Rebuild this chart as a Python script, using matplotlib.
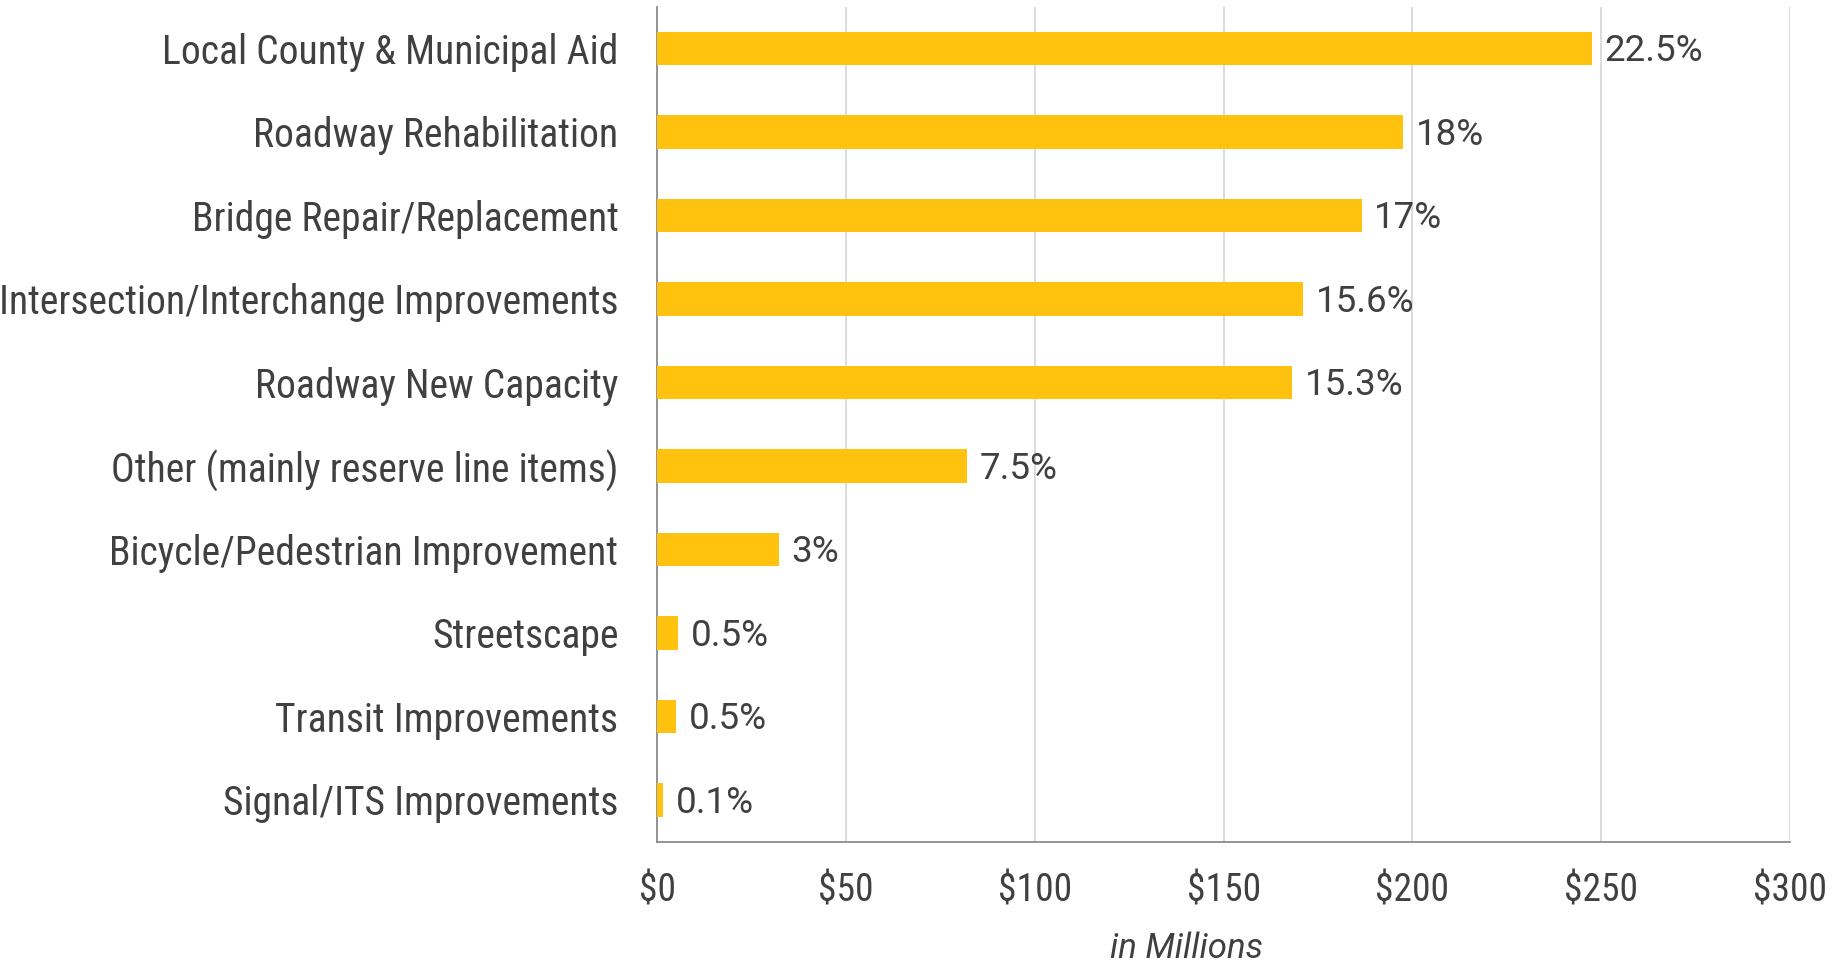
import matplotlib
matplotlib.use("Agg")
import matplotlib.pyplot as plt
from matplotlib.ticker import FuncFormatter

categories = [
    "Local County & Municipal Aid",
    "Roadway Rehabilitation",
    "Bridge Repair/Replacement",
    "Intersection/Interchange Improvements",
    "Roadway New Capacity",
    "Other (mainly reserve line items)",
    "Bicycle/Pedestrian Improvement",
    "Streetscape",
    "Transit Improvements",
    "Signal/ITS Improvements",
]
values = [247.5, 197.5, 186.5, 171.0, 168.2, 82.0, 32.2, 5.6, 5.0, 1.6]
pct_labels = ["22.5%", "18%", "17%", "15.6%", "15.3%", "7.5%", "3%", "0.5%", "0.5%", "0.1%"]
x_ticks = [0, 50, 100, 150, 200, 250, 300]

narrow = ['Roboto Condensed', 'PT Sans Narrow', 'DejaVu Sans']
regular = ['Roboto', 'Liberation Sans', 'DejaVu Sans']
plt.rcParams['font.family'] = narrow
text_color = "#404040"

fig = plt.figure(figsize=(18.36, 9.64), dpi=100)
ax = fig.add_axes([0.358, 0.127, 0.617, 0.866])

y = list(range(len(categories)))
ax.barh(y, values, height=0.4, color="#FFC20E", zorder=3)
ax.set_ylim(len(categories) - 0.5, -0.5)
ax.set_xlim(0, 300)
ax.set_yticks(y)
ax.set_yticklabels(categories, fontsize=28.5, color=text_color)
ax.set_xticks(x_ticks)
ax.xaxis.set_major_formatter(FuncFormatter(lambda v, p: f"${v:.0f}"))
ax.tick_params(axis='x', labelsize=27, labelcolor=text_color, length=0, pad=22)
ax.tick_params(axis='y', length=0, pad=28)
ax.grid(axis='x', color="#D9D9D9", linewidth=1.3, zorder=0)
for s in ["top", "right"]:
    ax.spines[s].set_visible(False)
for s in ["left", "bottom"]:
    ax.spines[s].set_color("#8C8C8C")
    ax.spines[s].set_linewidth(1.3)

for yi, v, lab in zip(y, values, pct_labels):
    ax.annotate(lab, (v, yi), xytext=(9, -2), textcoords="offset points",
                va="center", ha="left", fontsize=26.5, color=text_color,
                family=regular, zorder=4)

fig.text(0.646, 0.0065, "in Millions", ha="center", va="baseline", fontsize=25,
         style="italic", color=text_color, family=regular)

fig.savefig("out.png", dpi=100)
